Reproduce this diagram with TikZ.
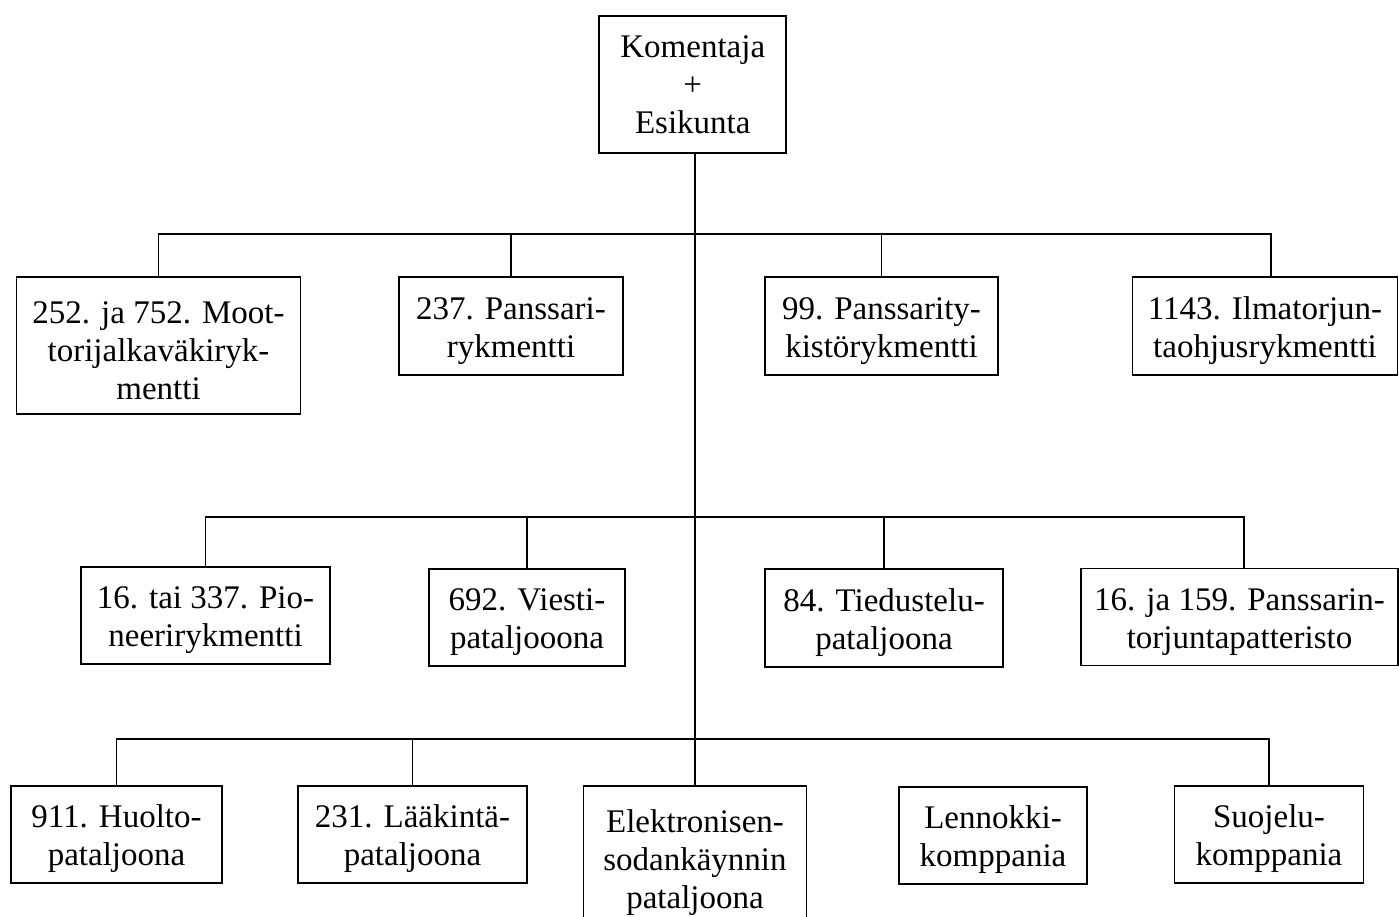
\documentclass[tikz,border=0pt]{standalone}
\usepackage{fontspec}
\setmainfont{Liberation Serif}
\newcommand{\fl}{\rule{0pt}{32pt}}
\begin{document}
\begin{tikzpicture}[x=1pt,y=-1pt,
  box/.style={draw, line width=1.9pt, align=center, inner sep=1pt,
    font=\fontsize{33}{38}\selectfont},
  conn/.style={line width=1.9pt, line join=miter}]
\useasboundingbox (0,0) rectangle (1399,917);
% top
\node[box, minimum width=187pt, minimum height=137pt] (top) at (692.75,84.5) {Komentaja\\+\\Esikunta};
% row 1
\node[box, minimum width=284pt, minimum height=137pt] (r1a) at (158.5,345.5) {\fl 252. ja 752. Moot-\\torijalkaväkiryk-\\mentti};
\node[box, minimum width=224pt, minimum height=98pt] (r1b) at (511,326) {\fl 237. Panssari-\\rykmentti};
\node[box, minimum width=233pt, minimum height=98pt] (r1c) at (881.5,326) {\fl 99. Panssarity-\\kistörykmentti};
\node[box, minimum width=265pt, minimum height=98pt] (r1d) at (1265,326) {\fl 1143. Ilmatorjun-\\taohjusrykmentti};
% row 2
\node[box, minimum width=249pt, minimum height=97pt] (r2a) at (205.5,615.5) {\fl 16. tai 337. Pio-\\neerirykmentti};
\node[box, minimum width=196pt, minimum height=97pt] (r2b) at (527,617.5) {\fl 692. Viesti-\\pataljooona};
\node[box, minimum width=238pt, minimum height=98pt] (r2c) at (884,618) {\fl 84. Tiedustelu-\\pataljoona};
\node[box, minimum width=317pt, minimum height=97pt] (r2d) at (1239.5,617) {\fl 16. ja 159. Panssarin-\\torjuntapatteristo};
% row 3
\node[box, minimum width=211pt, minimum height=97pt] (r3a) at (116.5,834.5) {\fl 911. Huolto-\\pataljoona};
\node[box, minimum width=229pt, minimum height=97pt] (r3b) at (412.5,834.5) {\fl 231. Lääkintä-\\pataljoona};
\node[box, minimum width=223pt, minimum height=144pt] (r3c) at (695,858) {\fl Elektronisen-\\sodankäynnin\\pataljoona};
\node[box, minimum width=188pt, minimum height=97pt] (r3d) at (993,835.5) {\fl Lennokki-\\komppania};
\node[box, minimum width=189pt, minimum height=97pt] (r3e) at (1269,834.5) {\fl Suojelu-\\komppania};
% buses
\coordinate (b1) at (695,234);
\coordinate (b2) at (695,517);
\coordinate (b3) at (695,739);
\coordinate (d1d) at ([xshift=6pt]r1d.north);
\coordinate (d2d) at ([xshift=4.5pt]r2d.north);
% trunk
\draw[conn] (top.south -| r3c.north) -- (r3c.north);
% row 1 connectors
\draw[conn] (r1a.north) -- (r1a.north |- b1) -- (d1d |- b1) -- (d1d);
\draw[conn] (r1b.north |- b1) -- (r1b.north);
\draw[conn] (r1c.north |- b1) -- (r1c.north);
% row 2 connectors
\draw[conn] (r2a.north) -- (r2a.north |- b2) -- (d2d |- b2) -- (d2d);
\draw[conn] (r2b.north |- b2) -- (r2b.north);
\draw[conn] (r2c.north |- b2) -- (r2c.north);
% row 3 connectors
\draw[conn] (r3a.north) -- (r3a.north |- b3) -- (r3e.north |- b3) -- (r3e.north);
\draw[conn] (r3b.north |- b3) -- (r3b.north);
\end{tikzpicture}
\end{document}
